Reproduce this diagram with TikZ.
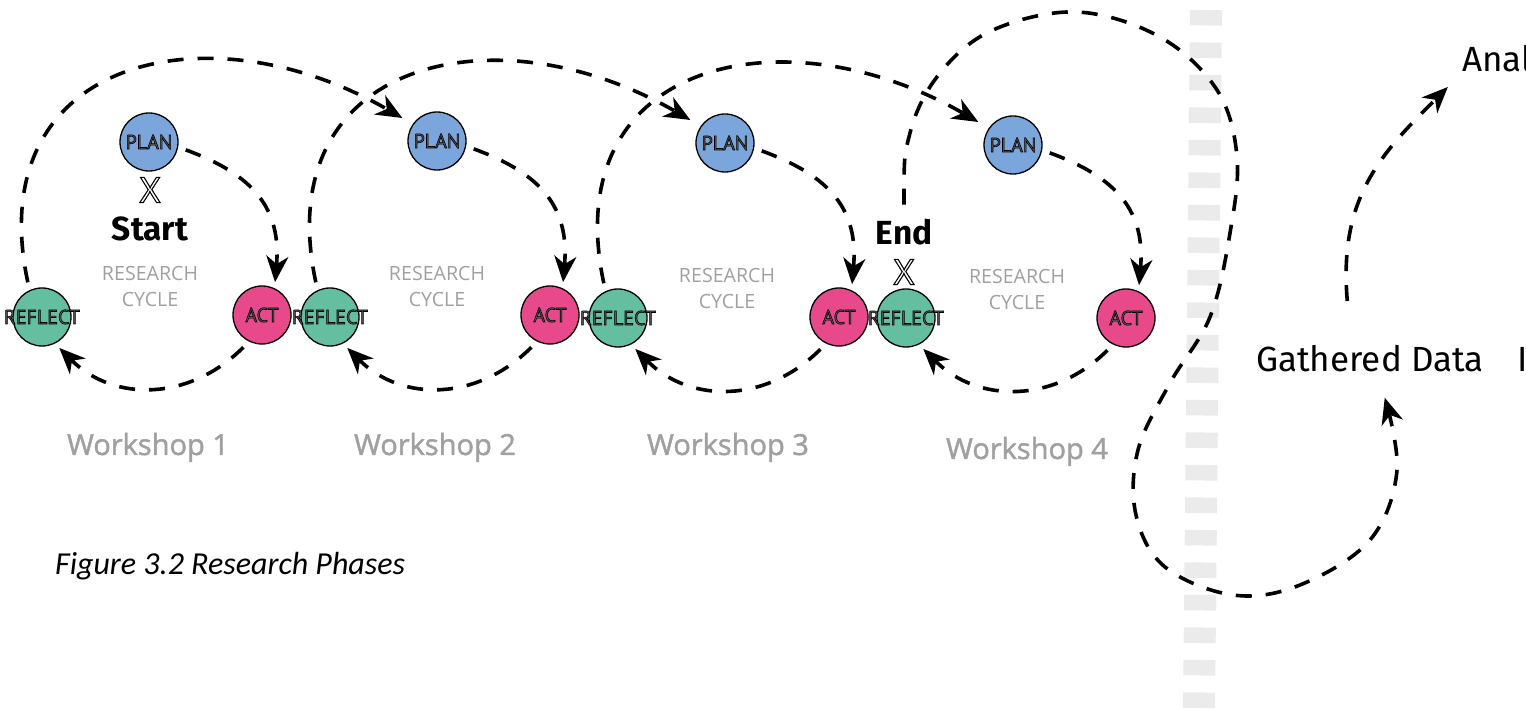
\documentclass[tikz,border=0pt]{standalone}
\usepackage{fontspec}
\setmainfont{Fira Sans}
\newfontfamily\wsfont{Open Sans}
\newfontfamily\wsboldfont{Open Sans}[FakeBold=1.6]
\newfontfamily\capfont{Carlito}
\newfontfamily\phfont{PT Sans}[FakeBold=3]
\newfontfamily\xfont{PT Sans}[FakeBold=3]
\usetikzlibrary{arrows.meta}
\definecolor{planblue}{HTML}{7AA6DB}
\definecolor{actpink}{HTML}{E8498A}
\definecolor{reflgreen}{HTML}{64BFA0}
\definecolor{labgray}{HTML}{A0A0A0}
\definecolor{sepgray}{HTML}{EBEBEB}
\newcommand{\phtxt}[1]{\makebox[0pt]{\special{pdf:bcolor [0.35] [0]}#1\special{pdf:ecolor}}}
\newcommand{\xtxt}{\special{pdf:bcolor [1] [0]}X\special{pdf:ecolor}}
\begin{document}
\begin{tikzpicture}[x=0.5pt,y=-0.5pt,
phase/.style={%
circle,draw=black,line width=0.65pt,
minimum size=29pt,inner sep=0pt,
font=\phfont\fontsize{10}{10}\selectfont
},
plan/.style={phase,fill=planblue},
act/.style={phase,fill=actpink},
refl/.style={phase,fill=reflgreen},
flow/.style={%
line width=1.8pt,dash pattern=on 8pt off 7pt,
-{Stealth[length=13pt,width=11pt,inset=4pt]},
shorten >=3pt,shorten <=4pt
},
wslbl/.style={text=labgray,anchor=base,font=\wsboldfont\fontsize{14.5}{16}\selectfont},
cyclbl/.style={text=labgray,align=center,font=\wsfont\fontsize{9.8}{13}\selectfont},
xlbl/.style={font=\xfont\fontsize{18}{18}\selectfont},
sebig/.style={anchor=base,font=\bfseries\fontsize{16.7}{18}\selectfont},
datalbl/.style={font=\fontsize{17.5}{20}\selectfont}
]
\useasboundingbox(0,0)rectangle(1526,710);
%% separator
\draw[sepgray,line width=16pt,dash pattern=on 7.75pt off 8.5pt](1206,10)--(1199,710);
%% Workshop 1
\node[plan]at(149,142)(p1){\phtxt{PLAN}};
\node[act]at(262,315)(a1){\phtxt{ACT}};
\node[refl]at(42,317)(r1){\phtxt{REFLECT}};
\node[xlbl]at(150,190)(x1){\xtxt};
\node[sebig]at(150,241)(start){Start};
\node[cyclbl]at(150,287)(c1){RESEARCH\\CYCLE};
\node[wslbl]at(148,455)(w1){Workshop 1};
%% Workshop 2
\node[plan]at(437,141)(p2){\phtxt{PLAN}};
\node[act]at(550,315)(a2){\phtxt{ACT}};
\node[refl]at(330,317)(r2){\phtxt{REFLECT}};
\node[cyclbl]at(437,287)(c2){RESEARCH\\CYCLE};
\node[wslbl]at(435,455)(w2){Workshop 2};
%% Workshop 3
\node[plan]at(725,143)(p3){\phtxt{PLAN}};
\node[act]at(839,317)(a3){\phtxt{ACT}};
\node[refl]at(618,318)(r3){\phtxt{REFLECT}};
\node[cyclbl]at(727,289)(c3){RESEARCH\\CYCLE};
\node[wslbl]at(728,455)(w3){Workshop 3};
%% Workshop 4
\node[plan]at(1013,145)(p4){\phtxt{PLAN}};
\node[act]at(1126,318)(a4){\phtxt{ACT}};
\node[refl]at(906,318)(r4){\phtxt{REFLECT}};
\node[sebig]at(904,245)(endl){End};
\node[xlbl]at(904,272)(x4){\xtxt};
\node[cyclbl]at(1017,290)(c4){RESEARCH\\CYCLE};
\node[wslbl]at(1027,459)(w4){Workshop 4};
%% cycles
\draw[flow](p1.-10)to[out=-20,in=85,looseness=1.2](a1.65);
\draw[flow](a1.-116)to[out=-135,in=-45,looseness=1.1](r1.-64);
\draw[flow,shorten >=6pt](r1.115)to[out=102,in=150,looseness=1.45](p2.145);
\draw[flow](p2.-10)to[out=-20,in=85,looseness=1.2](a2.65);
\draw[flow](a2.-116)to[out=-135,in=-45,looseness=1.1](r2.-64);
\draw[flow,shorten >=6pt](r2.115)to[out=102,in=150,looseness=1.45](p3.145);
\draw[flow](p3.-10)to[out=-20,in=85,looseness=1.2](a3.65);
\draw[flow](a3.-116)to[out=-135,in=-45,looseness=1.1](r3.-64);
\draw[flow,shorten >=6pt](r3.115)to[out=102,in=150,looseness=1.45](p4.145);
\draw[flow](p4.-10)to[out=-20,in=85,looseness=1.2](a4.65);
\draw[flow](a4.-116)to[out=-135,in=-45,looseness=1.1](r4.-64);
%% data phase
\node[datalbl,anchor=base]at(1370,372)(gath){Gathered Data};
\node[datalbl,anchor=base west,inner sep=0pt]at(1462,72)(anal){Anal};
\node[datalbl,anchor=base west,inner sep=0pt]at(1517,372)(more){I};
\coordinate(gin)at(1383,392);
\coordinate(gtop)at(1348,309);
\draw[flow]plot[smooth,tension=0.6]coordinates{(endl.north)(910,133)(940,73)(993,30)(1077,12)(1160,37)(1217,90)(1237,157)(1230,233)(1210,317)(1170,383)(1138,450)(1136,515)(1165,567)(1233,595)(1300,585)(1370,540)(1397,470)(gin)};
\draw[flow,shorten >=10pt](gtop)to[out=95,in=-135,looseness=1.1](anal.south west);
%% caption
\node[anchor=base west,font=\capfont\itshape\fontsize{16}{18}\selectfont]at(48,575)(cap){Figure 3.2 Research Phases};
\end{tikzpicture}
\end{document}
